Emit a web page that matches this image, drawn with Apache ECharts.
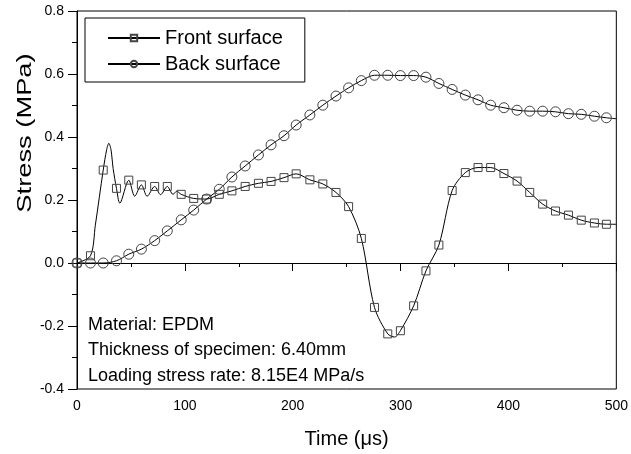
<!DOCTYPE html>
<html>
<head>
<meta charset="utf-8">
<script src="https://cdn.jsdelivr.net/npm/echarts@6/dist/echarts.min.js"></script>
<style>
html,body{margin:0;padding:0;background:#fff;}
#chart{width:631px;height:454px;}
</style>
</head>
<body>
<div id="chart"></div>
<script>
// Marker sample times (µs), shared by both surfaces
const markerTimes = [0,12.5,24.3,36.6,48,59.7,72,83.7,96.6,108.2,120.2,131.9,143.6,155.9,168.2,179.9,191.9,203.2,215.9,227.9,240.1,251.8,263.6,275.8,288.1,299.8,312.1,323.5,335.5,347.8,360,371.8,383.5,395.8,408,419.7,431.7,443.6,455.6,467.5,479.7,490.8];
// Front surface stress at marker times (MPa)
const frontValues = [0,0.023,0.295,0.237,0.263,0.248,0.243,0.243,0.218,0.205,0.203,0.218,0.229,0.243,0.253,0.259,0.271,0.283,0.264,0.251,0.224,0.179,0.078,-0.141,-0.225,-0.215,-0.136,-0.025,0.057,0.23,0.287,0.303,0.303,0.284,0.26,0.224,0.187,0.165,0.152,0.136,0.127,0.123];
// Front surface extra curve points (no marker): oscillation peaks/troughs
const frontExtraTimes = [17,27.5,29.5,31.5,33.5,39.7,53.5,65,77.5,89,92.5,294.5,500];
const frontExtraValues = [0.12,0.36,0.38,0.36,0.30,0.19,0.212,0.212,0.217,0.218,0.228,-0.235,0.123];
// Back surface stress at marker times (MPa)
const backValues = [0,0,0,0.007,0.028,0.044,0.071,0.102,0.137,0.168,0.203,0.234,0.273,0.308,0.343,0.375,0.404,0.438,0.470,0.501,0.530,0.556,0.579,0.596,0.596,0.595,0.595,0.590,0.570,0.551,0.533,0.518,0.501,0.493,0.485,0.482,0.482,0.480,0.474,0.472,0.466,0.461];
const backExtraTimes = [500];
const backExtraValues = [0.458];

const seriesNames = ['Front surface','Back surface'];
const xTitle = 'Time (\u03bcs)';
const yTitle = 'Stress (MPa)';
const notes = ['Material: EPDM','Thickness of specimen: 6.40mm','Loading stress rate: 8.15E4 MPa/s'];

function buildData(times, vals, exTimes, exVals){
  const pts = [];
  times.forEach((t,i)=>pts.push({value:[t, vals[i]]}));
  exTimes.forEach((t,i)=>pts.push({value:[t, exVals[i]], symbol:'none'}));
  pts.sort((a,b)=>a.value[0]-b.value[0]);
  return pts;
}

const FONT = '"Liberation Sans", Arial, sans-serif';
const chart = echarts.init(document.getElementById('chart'), null, {renderer:'canvas'});
chart.setOption({
  animation:false,
  backgroundColor:'#fff',
  grid:{left:77,right:12,top:11,bottom:64,show:true,borderColor:'#000',borderWidth:1,backgroundColor:'transparent'},
  legend:{
    orient:'vertical', left:85, top:18,
    data:seriesNames,
    borderColor:'#000', borderWidth:1, backgroundColor:'#fff',
    padding:[10,22,8,22], itemGap:6,
    itemWidth:52, itemHeight:8,
    textStyle:{fontSize:20,fontFamily:FONT,color:'#000'}
  },
  xAxis:{
    type:'value', min:0, max:500, interval:100,
    axisLine:{lineStyle:{color:'#000',width:1}},
    axisTick:{show:true,length:8,lineStyle:{color:'#000'}},
    minorTick:{show:true,splitNumber:2,length:4,lineStyle:{color:'#000'}},
    splitLine:{show:false},
    axisLabel:{fontSize:14,fontFamily:FONT,color:'#000',margin:10},
    name:xTitle, nameLocation:'middle', nameGap:40,
    nameTextStyle:{fontSize:20,fontFamily:FONT,color:'#000'}
  },
  yAxis:{
    type:'value', min:-0.4, max:0.8, interval:0.2,
    axisLine:{lineStyle:{color:'#000',width:1}},
    axisTick:{show:true,length:9,lineStyle:{color:'#000'}},
    minorTick:{show:true,splitNumber:2,length:5,lineStyle:{color:'#000'}},
    splitLine:{show:false},
    axisLabel:{fontSize:14,fontFamily:FONT,color:'#000',margin:13,formatter:v=>v.toFixed(1)}
  },
  graphic:[
    {type:'text', x:25, y:133, rotation:Math.PI/2, scaleX:1.3,
     style:{text:yTitle, font:'21px '+FONT, fill:'#000', textAlign:'center', textVerticalAlign:'middle'}},
    {type:'text', x:88, y:325, style:{text:notes[0], font:'18px '+FONT, fill:'#000', textVerticalAlign:'middle'}},
    {type:'text', x:88, y:350, style:{text:notes[1], font:'18px '+FONT, fill:'#000', textVerticalAlign:'middle'}},
    {type:'text', x:88, y:376, style:{text:notes[2], font:'18px '+FONT, fill:'#000', textVerticalAlign:'middle'}}
  ],
  series:[
    {name:seriesNames[0], type:'line', smooth:0.3, showAllSymbol:true,
     symbol:'rect', symbolSize:8,
     lineStyle:{color:'#000',width:1},
     itemStyle:{color:'rgba(0,0,0,0)',borderColor:'#444',borderWidth:1},
     data:buildData(markerTimes,frontValues,frontExtraTimes,frontExtraValues)},
    {name:seriesNames[1], type:'line', smooth:0.3, showAllSymbol:true,
     symbol:'circle', symbolSize:10,
     lineStyle:{color:'#000',width:1},
     itemStyle:{color:'rgba(0,0,0,0)',borderColor:'#444',borderWidth:1},
     data:buildData(markerTimes,backValues,backExtraTimes,backExtraValues)}
  ]
});
</script>
</body>
</html>
